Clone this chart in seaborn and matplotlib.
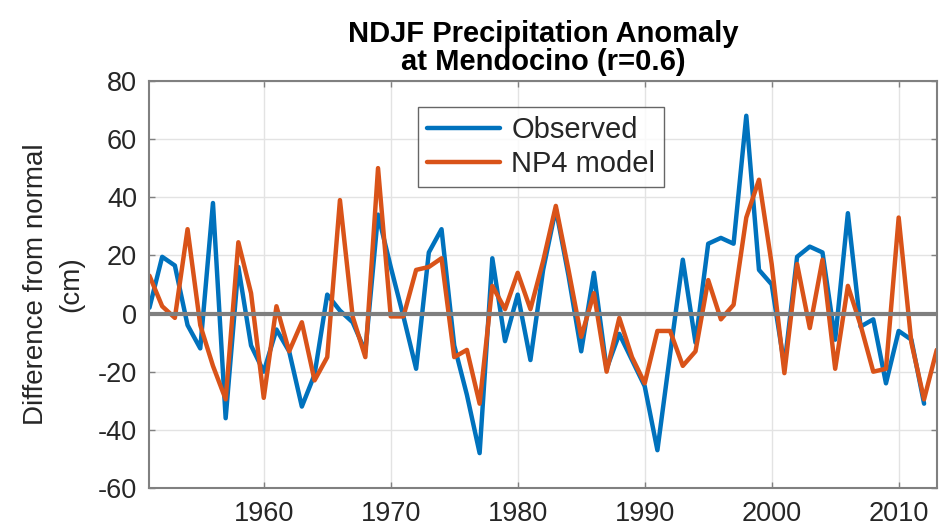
import numpy as np
import pandas as pd
import matplotlib
matplotlib.use("Agg")
import matplotlib.pyplot as plt
import seaborn as sns

years = list(range(1951, 2014))

observed = [2, 19.5, 16.5, -4, -12, 38, -36, 16, -11, -20,
            -5.5, -13, -32, -21, 6.5, 1, -3, -13, 34, 16,
            -1, -19, 21, 29, -11, -28, -48, 19, -9.5, 6.5,
            -16, 15, 36, 13, -13, 14, -19, -7, -16, -25,
            -47, -14, 18.5, -10, 24, 26, 24, 68, 15, 10,
            -18, 19.5, 23, 21, -9, 34.5, -4.5, -2, -24, -6,
            -9, -31, np.nan]

np4_model = [13, 2.5, -1.5, 29, -4, -18, -29.5, 24.5, 7, -29,
             2.5, -13, -3, -23, -15, 39, -1, -15, 50, -1,
             -1, 15, 16, 19, -15, -12.5, -31, 9.5, 1.5, 14,
             1.5, 18, 37, 15, -8, 7, -20, -1.5, -15, -24,
             -6, -6, -18, -13, 11.5, -2, 3, 33, 46, 17,
             -20.5, 17, -5, 18.5, -19, 9.5, -4, -20, -19, 33,
             -10, -29.5, -12.5]

series_names = ["Observed", "NP4 model"]
x_ticks = [1960, 1970, 1980, 1990, 2000, 2010]
y_ticks = [-60, -40, -20, 0, 20, 40, 60, 80]

df = pd.DataFrame({
    "year": years * 2,
    "value": observed + np4_model,
    "series": [series_names[0]] * len(years) + [series_names[1]] * len(years),
})

sns.set_theme(style="white")
plt.rcParams["font.family"] = ["Liberation Sans", "DejaVu Sans"]
plt.rcParams["axes.unicode_minus"] = False

fig = plt.figure(figsize=(9.52, 5.32), dpi=100)
ax = fig.add_axes([0.157, 0.0827, 0.827, 0.7653])

palette = {"Observed": "#0072BD", "NP4 model": "#D95319"}
sns.lineplot(data=df, x="year", y="value", hue="series", palette=palette,
             linewidth=3.2, ax=ax, zorder=2)

ax.axhline(0, color="#7f7f7f", linewidth=3, zorder=3)

ax.set_xlim(1951, 2013)
ax.set_ylim(-60, 80)
ax.set_xticks(x_ticks)
ax.set_yticks(y_ticks)
ax.grid(True, color="#e3e3e3", linewidth=1)
ax.set_axisbelow(True)
for s in ax.spines.values():
    s.set_color("#808080")
    s.set_linewidth(1.5)
ax.tick_params(direction="in", length=4, width=1, color="#808080",
               labelsize=19.5, labelcolor="#262626", pad=9,
               top=True, right=True, bottom=True, left=True)

ax.set_xlabel("")
ax.set_ylabel("Difference from normal\n(cm)", fontsize=20, color="#262626",
              labelpad=10, linespacing=1.45)
ax.set_title("NDJF Precipitation Anomaly\nat Mendocino (r=0.6)",
             fontsize=21, fontweight="bold", color="#000000", pad=8,
             linespacing=1.0)

leg = ax.legend(loc="upper left", bbox_to_anchor=(0.341, 0.935),
                borderaxespad=0, fontsize=21, frameon=True, fancybox=False,
                handlelength=2.5, borderpad=0.3, labelspacing=0.2,
                handletextpad=0.4)
leg.get_frame().set_edgecolor("#404040")
leg.get_frame().set_linewidth(1)
for t in leg.get_texts():
    t.set_color("#262626")

fig.savefig("out.png", dpi=100)
